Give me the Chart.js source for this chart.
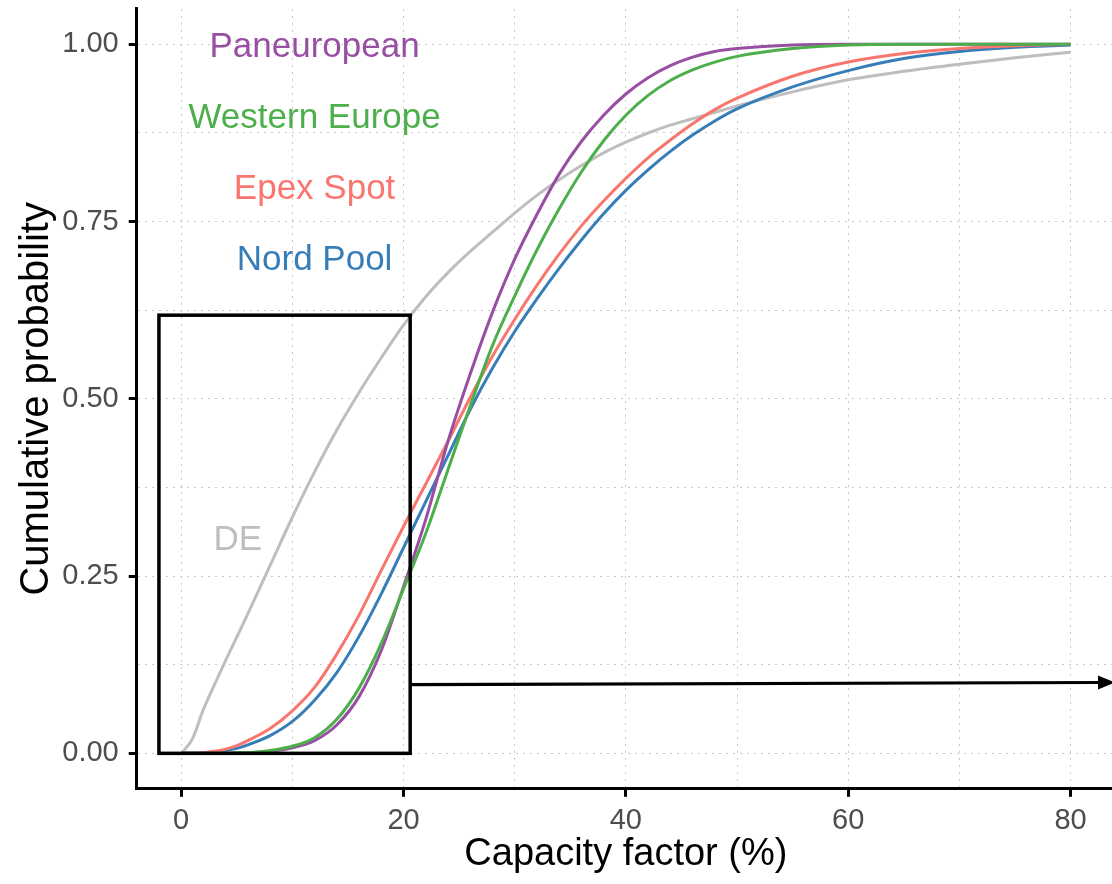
<!DOCTYPE html>
<html>
<head>
<meta charset="utf-8">
<script src="https://cdn.jsdelivr.net/npm/chart.js@4.4.1/dist/chart.umd.min.js"></script>
<style>
  html, body { margin: 0; padding: 0; background: #fff; overflow: hidden; }
  #chart { display: block; }
</style>
</head>
<body>
<canvas id="chart" width="1120" height="884"></canvas>
<script>
'use strict';

/* ----------------------------------------------------------
   DATA
   ---------------------------------------------------------- */

var capacityFactor = [0, 1, 2, 3, 4, 5, 6, 8, 10, 12, 14, 16, 18, 20, 22, 24, 26, 28, 30, 32, 34, 36, 38, 40, 42, 44, 46, 48, 50, 55, 60, 65, 70, 75, 80];

var paneuropean = [0, 0, 0, 0, 0, 0.001, 0.001, 0.003, 0.008, 0.018, 0.04, 0.08, 0.145, 0.235, 0.33, 0.44, 0.535, 0.622, 0.697, 0.76, 0.817, 0.863, 0.90, 0.93, 0.953, 0.97, 0.982, 0.99, 0.994, 0.999, 1, 1, 1, 1, 1];
var westernEurope = [0, 0, 0, 0, 0, 0.001, 0.001, 0.004, 0.01, 0.022, 0.048, 0.092, 0.155, 0.232, 0.31, 0.40, 0.49, 0.575, 0.645, 0.71, 0.768, 0.82, 0.864, 0.90, 0.928, 0.949, 0.964, 0.975, 0.983, 0.994, 0.999, 1, 1, 1, 1];
var epexSpot = [0, 0, 0.001, 0.003, 0.006, 0.011, 0.018, 0.035, 0.06, 0.093, 0.14, 0.195, 0.258, 0.32, 0.38, 0.44, 0.502, 0.56, 0.612, 0.66, 0.704, 0.744, 0.779, 0.811, 0.84, 0.865, 0.888, 0.908, 0.924, 0.955, 0.975, 0.987, 0.994, 0.998, 1];
var nordPool = [0, 0, 0.001, 0.002, 0.004, 0.007, 0.012, 0.025, 0.045, 0.075, 0.114, 0.165, 0.225, 0.29, 0.355, 0.42, 0.485, 0.543, 0.595, 0.641, 0.684, 0.724, 0.761, 0.794, 0.823, 0.849, 0.872, 0.892, 0.909, 0.94, 0.963, 0.98, 0.99, 0.996, 0.999];
var germany = [0, 0.02, 0.062, 0.097, 0.131, 0.164, 0.197, 0.265, 0.333, 0.397, 0.456, 0.509, 0.558, 0.604, 0.644, 0.678, 0.708, 0.735, 0.762, 0.787, 0.809, 0.829, 0.847, 0.862, 0.875, 0.886, 0.895, 0.904, 0.913, 0.933, 0.95, 0.962, 0.972, 0.981, 0.989];

var xTicks = [0, 10, 20, 30, 40, 50, 60, 70, 80];
var yTicks = [0, 0.125, 0.25, 0.375, 0.5, 0.625, 0.75, 0.875, 1];

// text labels placed in data units
var labelTexts = ['Paneuropean', 'Western Europe', 'Epex Spot', 'Nord Pool', 'DE'];
var labelX = [12, 12, 12, 12, 5.1];
var labelY = [1.0, 0.9, 0.8, 0.7, 0.305];

// zoom box and arrow, in data units
var boxX = [-2, 20.6];
var boxY = [0, 0.618];
var arrowX = [20.6, 84];
var arrowY = [0.097, 0.1];

/* ----------------------------------------------------------
   STYLE
   ---------------------------------------------------------- */

var FONT = '"Liberation Sans", Arial, sans-serif';
var KOLOR_PAN = '#984ea3';
var KOLOR_WEST = '#4daf4a';
var KOLOR_EPEX = '#f8766d';
var KOLOR_NORD = '#377eb8';
var KOLOR_DE = '#bebebe';
var labelColors = [KOLOR_PAN, KOLOR_WEST, KOLOR_EPEX, KOLOR_NORD, KOLOR_DE];
var GRID = '#c9c9c9';

function punkty(values) {
  return capacityFactor.map(function (x, i) { return { x: x, y: values[i] }; });
}

function seria(label, values, color) {
  return {
    label: label,
    data: punkty(values),
    borderColor: color,
    backgroundColor: color,
    borderWidth: 3,
    pointRadius: 0,
    fill: false,
    cubicInterpolationMode: 'monotone'
  };
}

/* ----------------------------------------------------------
   ANNOTATIONS (labels, box, arrow)
   ---------------------------------------------------------- */

var adnotacje = {
  id: 'adnotacje',
  afterDatasetsDraw: function (chart) {
    var sx = chart.scales.x;
    var sy = chart.scales.y;
    var ctx = chart.ctx;
    ctx.save();

    // ggplot centres the glyph box, canvas 'middle' sits a little higher
    ctx.font = '35px ' + FONT;
    ctx.textAlign = 'center';
    ctx.textBaseline = 'middle';
    for (var i = 0; i < labelTexts.length; i++) {
      ctx.fillStyle = labelColors[i];
      ctx.fillText(labelTexts[i], sx.getPixelForValue(labelX[i]), sy.getPixelForValue(labelY[i]) + 3);
    }

    // box
    var x0 = sx.getPixelForValue(boxX[0]);
    var x1 = sx.getPixelForValue(boxX[1]);
    var y0 = sy.getPixelForValue(boxY[0]);
    var y1 = sy.getPixelForValue(boxY[1]);
    ctx.strokeStyle = '#000';
    ctx.lineWidth = 3.5;
    ctx.lineJoin = 'miter';
    ctx.strokeRect(x0, y1, x1 - x0, y0 - y1);

    // arrow
    var ax0 = sx.getPixelForValue(arrowX[0]);
    var ay0 = sy.getPixelForValue(arrowY[0]);
    var ax1 = sx.getPixelForValue(arrowX[1]);
    var ay1 = sy.getPixelForValue(arrowY[1]);
    var kat = Math.atan2(ay1 - ay0, ax1 - ax0);
    var dl = 17, sz = 7;
    ctx.lineWidth = 3.2;
    ctx.beginPath();
    ctx.moveTo(ax0, ay0);
    ctx.lineTo(ax1 - dl * Math.cos(kat), ay1 - dl * Math.sin(kat));
    ctx.stroke();
    ctx.fillStyle = '#000';
    ctx.beginPath();
    ctx.moveTo(ax1, ay1);
    ctx.lineTo(ax1 - dl * Math.cos(kat) + sz * Math.sin(kat), ay1 - dl * Math.sin(kat) - sz * Math.cos(kat));
    ctx.lineTo(ax1 - dl * Math.cos(kat) - sz * Math.sin(kat), ay1 - dl * Math.sin(kat) + sz * Math.cos(kat));
    ctx.closePath();
    ctx.fill();

    ctx.restore();
  }
};

/* ----------------------------------------------------------
   CHART
   ---------------------------------------------------------- */

function czyGlownyX(v) { return v % 20 === 0; }
function czyGlownyY(v) { return Math.abs(v * 4 - Math.round(v * 4)) < 1e-9; }

new Chart(document.getElementById('chart'), {
  type: 'line',
  data: {
    datasets: [
      seria('Western Europe', westernEurope, KOLOR_WEST),
      seria('Paneuropean', paneuropean, KOLOR_PAN),
      seria('Epex Spot', epexSpot, KOLOR_EPEX),
      seria('Nord Pool', nordPool, KOLOR_NORD),
      seria('DE', germany, KOLOR_DE)
    ]
  },
  options: {
    responsive: false,
    animation: false,
    devicePixelRatio: 1,
    layout: { padding: { top: 8.9, right: 5, left: 0, bottom: 0 } },
    plugins: { legend: { display: false }, tooltip: { enabled: false } },
    scales: {
      x: {
        type: 'linear',
        min: -4,
        max: 84,
        afterFit: function (scale) {
          scale.height = 95.2;
          scale.paddingLeft = 0;
          scale.paddingRight = 0;
        },
        afterBuildTicks: function (axis) { axis.ticks = xTicks.map(function (v) { return { value: v }; }); },
        ticks: {
          autoSkip: false,
          maxRotation: 0,
          padding: 7,
          color: '#4d4d4d',
          font: { family: FONT, size: 29 },
          callback: function (v) { return czyGlownyX(v) ? String(v) : ''; }
        },
        grid: {
          color: GRID,
          lineWidth: 1,
          tickLength: 8,
          tickWidth: 3,
          tickColor: function (c) { return c.tick && czyGlownyX(c.tick.value) ? '#000' : 'rgba(0,0,0,0)'; }
        },
        border: { display: true, color: '#000', width: 3, dash: [2, 5] },
        title: {
          display: true,
          text: 'Capacity factor (%)',
          color: '#000',
          font: { family: FONT, size: 38, lineHeight: 1 },
          padding: { top: 0, bottom: 10 }
        }
      },
      y: {
        type: 'linear',
        min: -0.05,
        max: 1.05,
        afterFit: function (scale) {
          scale.width = 136.7;
          scale.paddingTop = 0;
          scale.paddingBottom = 0;
        },
        afterBuildTicks: function (axis) { axis.ticks = yTicks.map(function (v) { return { value: v }; }); },
        ticks: {
          autoSkip: false,
          padding: 10,
          color: '#4d4d4d',
          font: { family: FONT, size: 29 },
          callback: function (v) { return czyGlownyY(v) ? v.toFixed(2) : ''; }
        },
        grid: {
          color: GRID,
          lineWidth: 1,
          tickLength: 8,
          tickWidth: 3,
          tickColor: function (c) { return c.tick && czyGlownyY(c.tick.value) ? '#000' : 'rgba(0,0,0,0)'; }
        },
        border: { display: true, color: '#000', width: 3, dash: [2, 5] },
        title: {
          display: true,
          text: 'Cumulative probability',
          color: '#000',
          font: { family: FONT, size: 40, lineHeight: 1 },
          padding: { top: 17, bottom: 0 }
        }
      }
    }
  },
  plugins: [adnotacje]
});
</script>
</body>
</html>
